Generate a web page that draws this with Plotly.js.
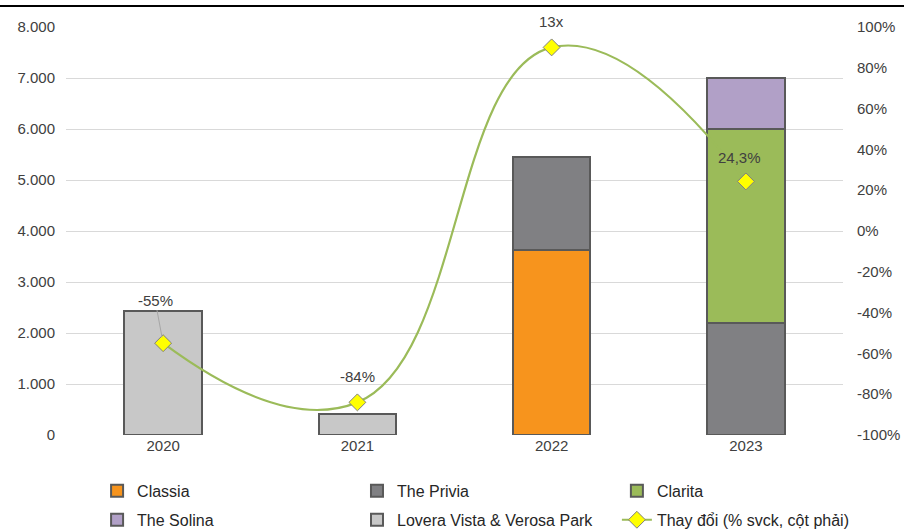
<!DOCTYPE html>
<html>
<head>
<meta charset="utf-8">
<script src="https://cdn.plot.ly/plotly-3.0.1.min.js"></script>
<style>html,body{margin:0;padding:0;background:#fff;}#chart{width:904px;height:532px;}</style>
</head>
<body>
<div id="chart"></div>
<script>
const years = ['2020', '2021', '2022', '2023'];
const classia = [null, null, 3630, null];
const privia = [null, null, 1820, 2200];
const clarita = [null, null, null, 3800];
const solina = [null, null, null, 1000];
const lovera = [2430, 410, null, null];
const changePct = [-55, -84, 90, 24.3];
const changeLabels = ['-55%', '-84%', '13x', '24,3%'];
const leftTicks = [0, 1000, 2000, 3000, 4000, 5000, 6000, 7000, 8000];
const rightTicks = [-100, -80, -60, -40, -20, 0, 20, 40, 60, 80, 100];

const FONT = 'Liberation Sans, Arial, sans-serif';
const outline = {color: '#595959', width: 2};

function bar(name, y, color, lg) {
  return {type: 'bar', name: name, x: years, y: y, width: 0.4, legend: lg,
    marker: {color: color, line: outline}, hoverinfo: 'none'};
}

const traces = [
  bar('Classia', classia, '#F7941D', 'legend'),
  bar('The Privia', privia, '#808083', 'legend2'),
  bar('Clarita', clarita, '#9BBB59', 'legend3'),
  bar('The Solina', solina, '#B1A0C7', 'legend4'),
  bar('Lovera Vista & Verosa Park', lovera, '#C8C8C8', 'legend5'),
  {type: 'scatter', mode: 'lines+markers', name: 'Thay đổi (% svck, cột phải)',
   x: years, y: changePct, yaxis: 'y2', legend: 'legend6', hoverinfo: 'none',
   line: {color: '#9BBB59', width: 2.2, shape: 'spline', smoothing: 1.3},
   marker: {symbol: 'diamond', size: 13, color: '#FFFF00', line: {color: '#7F7F7F', width: 1}}}
];

const offsets = [[-8, -43], [0, -26], [0, -26], [-6, -24]];
const annotations = changeLabels.map((t, i) => {
  const a = {x: i, y: changePct[i], xref: 'x', yref: 'y2', text: t,
    font: {family: FONT, size: 15, color: '#404040'}};
  if (i === 0) {
    Object.assign(a, {showarrow: true, arrowhead: 0, arrowwidth: 1, arrowcolor: '#A6A6A6',
      ax: offsets[i][0], ay: offsets[i][1], standoff: 6});
  } else {
    Object.assign(a, {showarrow: false, xshift: offsets[i][0], yshift: -offsets[i][1]});
  }
  return a;
});

function legendAt(x, y) {
  return {x: x, y: y, orientation: 'h', xanchor: 'left', yanchor: 'middle',
    bgcolor: 'rgba(0,0,0,0)', font: {family: FONT, size: 16, color: '#262626'}};
}
const colX = [0.04, 0.3745, 0.709];
const rowY = [-0.137, -0.208];

const layout = {
  width: 904, height: 532,
  margin: {l: 66, r: 61, t: 27, b: 97, autoexpand: false},
  paper_bgcolor: '#fff', plot_bgcolor: '#fff',
  separators: ',.',
  barmode: 'stack',
  font: {family: FONT, size: 15, color: '#404040'},
  xaxis: {type: 'category', range: [-0.5, 3.5], autorange: false, showgrid: false,
    zeroline: false, showline: false, ticks: '',
    tickfont: {family: FONT, size: 15, color: '#404040'}},
  yaxis: {range: [0, 8000], autorange: false, tickmode: 'array', tickvals: leftTicks, tickformat: ',d',
    gridcolor: '#D9D9D9', gridwidth: 1, zeroline: false, showline: false, ticks: '',
    ticklabelstandoff: 10,
    tickfont: {family: FONT, size: 15, color: '#404040'}},
  yaxis2: {range: [-100, 100], autorange: false, overlaying: 'y', side: 'right',
    tickmode: 'array', tickvals: rightTicks, ticktext: rightTicks.map(v => v + '%'),
    showgrid: false, zeroline: false, showline: false, ticks: '',
    ticklabelstandoff: 13,
    tickfont: {family: FONT, size: 15, color: '#404040'}},
  legend: legendAt(colX[0], rowY[0]),
  legend2: legendAt(colX[1], rowY[0]),
  legend3: legendAt(colX[2], rowY[0]),
  legend4: legendAt(colX[0], rowY[1]),
  legend5: legendAt(colX[1], rowY[1]),
  legend6: legendAt(colX[2], rowY[1]),
  annotations: annotations,
  shapes: [{type: 'line', xref: 'paper', yref: 'paper', x0: -66/777, x1: 838/777,
    y0: 429/408, y1: 429/408, line: {color: '#000', width: 2}}],
  showlegend: true
};

Plotly.newPlot('chart', traces, layout, {displayModeBar: false});
</script>
</body>
</html>
